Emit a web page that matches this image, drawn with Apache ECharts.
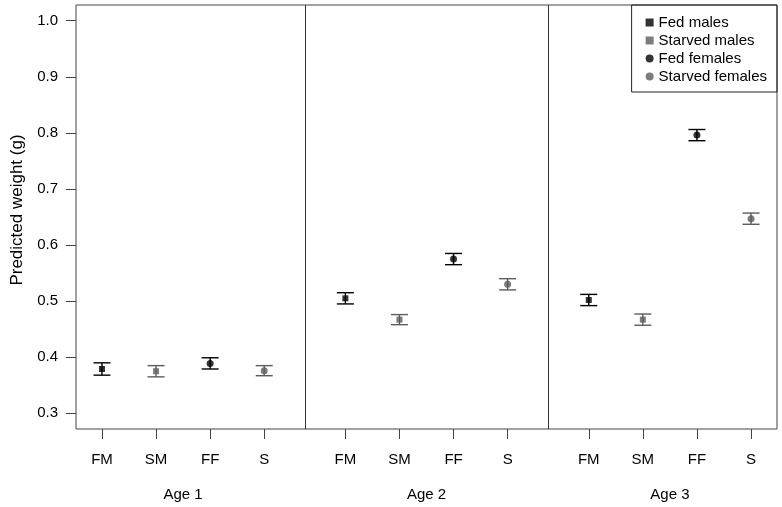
<!DOCTYPE html>
<html>
<head>
<meta charset="utf-8">
<script src="https://cdn.jsdelivr.net/npm/echarts@6/dist/echarts.min.js"></script>
<style>
html,body{margin:0;padding:0;background:#fff;}
#chart{width:782px;height:507px;}
</style>
</head>
<body>
<div id="chart"></div>
<script>
var ageLabels = ['Age 1', 'Age 2', 'Age 3'];
var ageCentres = [2.5, 7, 11.5];
var groupLabels = ['FM', 'SM', 'FF', 'S'];
var groupPos = [[1, 2, 3, 4], [5.5, 6.5, 7.5, 8.5], [10, 11, 12, 13]];
var separators = [4.75, 9.25];
var yTicks = [0.3, 0.4, 0.5, 0.6, 0.7, 0.8, 0.9, 1.0];

// predicted weight per age, and half width of the error bar
var fedMales = [0.379, 0.505, 0.502];
var fedMalesErr = [0.011, 0.010, 0.010];
var starvedMales = [0.375, 0.467, 0.467];
var starvedMalesErr = [0.010, 0.009, 0.010];
var fedFemales = [0.389, 0.575, 0.796];
var fedFemalesErr = [0.010, 0.010, 0.010];
var starvedFemales = [0.376, 0.530, 0.647];
var starvedFemalesErr = [0.009, 0.010, 0.010];

var FONT = 'Liberation Sans, Arial, sans-serif';
var FED = '#000000';
var STARVED = '#5c5c5c';

var xTicks = [];
groupPos.forEach(function (p) { xTicks = xTicks.concat(p); });

function points(vals, g) {
    return vals.map(function (v, i) { return [groupPos[i][g], v]; });
}
function bars(vals, errs, g) {
    return vals.map(function (v, i) { return [groupPos[i][g], v - errs[i], v + errs[i]]; });
}
function errSeries(name, data, color) {
    return {
        type: 'custom',
        name: name,
        silent: true,
        data: data,
        renderItem: function (params, api) {
            var lo = api.coord([api.value(0), api.value(1)]);
            var hi = api.coord([api.value(0), api.value(2)]);
            var w = 8.5;
            var st = {stroke: color, lineWidth: 1.4};
            return {
                type: 'group',
                children: [
                    {type: 'line', shape: {x1: lo[0], y1: lo[1], x2: hi[0], y2: hi[1]}, style: st},
                    {type: 'line', shape: {x1: lo[0] - w, y1: lo[1], x2: lo[0] + w, y2: lo[1]}, style: st},
                    {type: 'line', shape: {x1: hi[0] - w, y1: hi[1], x2: hi[0] + w, y2: hi[1]}, style: st}
                ]
            };
        }
    };
}

var chart = echarts.init(document.getElementById('chart'));
var option = {
    animation: false,
    backgroundColor: '#fff',
    textStyle: {fontFamily: FONT},
    grid: {
        left: 76, right: 5, top: 5, bottom: 78,
        show: true, borderColor: '#444', borderWidth: 1
    },
    legend: {
        orient: 'vertical',
        right: 5, top: 5,
        padding: [10, 10, 8, 14],
        itemGap: 3,
        itemWidth: 8, itemHeight: 8,
        borderColor: '#222', borderWidth: 1,
        borderRadius: 0,
        textStyle: {fontSize: 15, color: '#000', fontFamily: FONT},
        data: [
            {name: 'Fed males', icon: 'rect'},
            {name: 'Starved males', icon: 'rect'},
            {name: 'Fed females', icon: 'circle'},
            {name: 'Starved females', icon: 'circle'}
        ]
    },
    xAxis: [{
        type: 'value',
        min: 0.52, max: 13.48,
        splitLine: {show: false},
        axisLine: {show: false},
        axisTick: {show: true, customValues: xTicks, length: 10, lineStyle: {color: '#444'}},
        axisLabel: {
            customValues: xTicks, margin: 23, fontSize: 15, color: '#000',
            formatter: function (v) {
                for (var g = 0; g < groupPos.length; g++) {
                    var i = groupPos[g].indexOf(v);
                    if (i >= 0) return groupLabels[i];
                }
                return '';
            }
        }
    }, {
        type: 'value',
        position: 'bottom',
        min: 0.52, max: 13.48,
        splitLine: {show: false},
        axisLine: {show: false},
        axisTick: {show: false},
        axisLabel: {
            customValues: ageCentres, margin: 58, fontSize: 15, color: '#000',
            formatter: function (v) { return ageLabels[ageCentres.indexOf(v)]; }
        }
    }],
    yAxis: {
        type: 'value',
        min: 0.272, max: 1.028,
        name: 'Predicted weight (g)',
        nameLocation: 'middle',
        nameGap: 46,
        nameTextStyle: {fontSize: 17, color: '#000', fontFamily: FONT, padding: [0, 0, 0, 14]},
        splitLine: {show: false},
        axisLine: {show: false},
        axisTick: {show: true, customValues: yTicks, length: 10, lineStyle: {color: '#444'}},
        axisLabel: {
            customValues: yTicks, margin: 18, fontSize: 15, color: '#000',
            formatter: function (v) { return v.toFixed(1); }
        }
    },
    series: [
        errSeries('errFM', bars(fedMales, fedMalesErr, 0), FED),
        errSeries('errSM', bars(starvedMales, starvedMalesErr, 1), STARVED),
        errSeries('errFF', bars(fedFemales, fedFemalesErr, 2), FED),
        errSeries('errSF', bars(starvedFemales, starvedFemalesErr, 3), STARVED),
        {
            type: 'scatter', name: 'Fed males', symbol: 'rect', symbolSize: 6,
            itemStyle: {color: FED}, data: points(fedMales, 0),
            markLine: {
                silent: true, symbol: 'none', label: {show: false},
                lineStyle: {color: '#333', type: 'solid', width: 1},
                data: separators.map(function (s) { return {xAxis: s}; })
            }
        },
        {
            type: 'scatter', name: 'Starved males', symbol: 'rect', symbolSize: 6,
            itemStyle: {color: STARVED}, data: points(starvedMales, 1)
        },
        {
            type: 'scatter', name: 'Fed females', symbol: 'circle', symbolSize: 7,
            itemStyle: {color: FED}, data: points(fedFemales, 2)
        },
        {
            type: 'scatter', name: 'Starved females', symbol: 'circle', symbolSize: 7,
            itemStyle: {color: STARVED}, data: points(starvedFemales, 3)
        }
    ]
};
chart.setOption(option);
window.onresize = chart.resize;
</script>
</body>
</html>
